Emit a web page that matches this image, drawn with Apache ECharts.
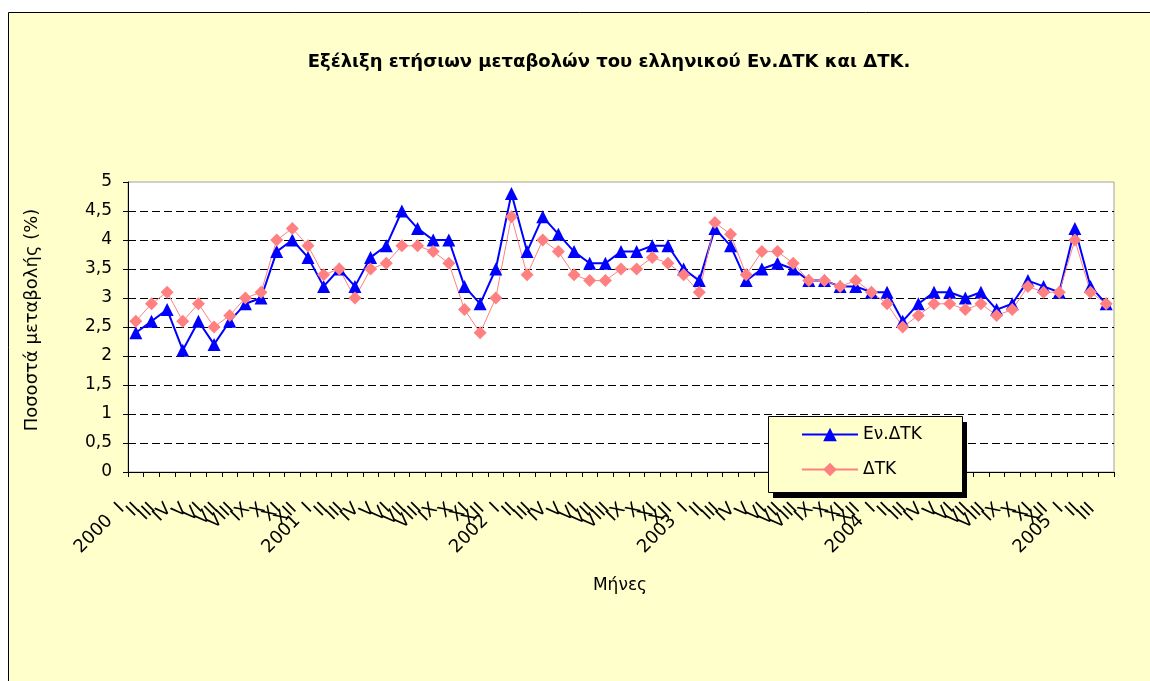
<!DOCTYPE html>
<html>
<head>
<meta charset="UTF-8">
<title>Εν.ΔΤΚ και ΔΤΚ</title>
<script src="https://cdn.jsdelivr.net/npm/echarts@6/dist/echarts.min.js"></script>
<style>
  body { margin: 0; background: #fff; }
  #chart { width: 1150px; height: 681px; }
</style>
</head>
<body>
<div id="chart"></div>
<script>
// Έτη και μήνες (ρωμαϊκή αρίθμηση) του άξονα Χ
const years = ['2000', '2001', '2002', '2003', '2004', '2005']
const months = ['I', 'II', 'III', 'IV', 'V', 'VI', 'VII', 'VIII', 'IX', 'X', 'XI', 'XII']
const lastMonths = 3 // 2005: Ι - ΙΙΙ

// Εν.ΔΤΚ (%)
const evDtk = [
  2.4, 2.6, 2.8, 2.1, 2.6, 2.2, 2.6, 2.9, 3.0, 3.8, 4.0, 3.7,
  3.2, 3.5, 3.2, 3.7, 3.9, 4.5, 4.2, 4.0, 4.0, 3.2, 2.9, 3.5,
  4.8, 3.8, 4.4, 4.1, 3.8, 3.6, 3.6, 3.8, 3.8, 3.9, 3.9, 3.5,
  3.3, 4.2, 3.9, 3.3, 3.5, 3.6, 3.5, 3.3, 3.3, 3.2, 3.2, 3.1,
  3.1, 2.6, 2.9, 3.1, 3.1, 3.0, 3.1, 2.8, 2.9, 3.3, 3.2, 3.1,
  4.2, 3.2, 2.9
]

// ΔΤΚ (%)
const dtk = [
  2.6, 2.9, 3.1, 2.6, 2.9, 2.5, 2.7, 3.0, 3.1, 4.0, 4.2, 3.9,
  3.4, 3.5, 3.0, 3.5, 3.6, 3.9, 3.9, 3.8, 3.6, 2.8, 2.4, 3.0,
  4.4, 3.4, 4.0, 3.8, 3.4, 3.3, 3.3, 3.5, 3.5, 3.7, 3.6, 3.4,
  3.1, 4.3, 4.1, 3.4, 3.8, 3.8, 3.6, 3.3, 3.3, 3.2, 3.3, 3.1,
  2.9, 2.5, 2.7, 2.9, 2.9, 2.8, 2.9, 2.7, 2.8, 3.2, 3.1, 3.1,
  4.0, 3.1, 2.9
]

// κατηγορίες: "2000  I", "II", ... "XII", "2001  I", ...
const categories = []
years.forEach((y, yi) => {
  const n = yi === years.length - 1 ? lastMonths : 12
  for (let m = 0; m < n; m++) {
    categories.push(m === 0 ? y + '  ' + months[m] : months[m])
  }
})

const FONT = 'DejaVu Sans'

// το 5 δεν έχει διακεκομμένη γραμμή (εκεί είναι το πλαίσιο)
const splitColors = Array(10).fill('#000').concat(['rgba(0,0,0,0)'])

// πλαίσιο υπομνήματος
const LEG = { x: 768, y: 416, w: 194, h: 76 }

const chart = echarts.init(document.getElementById('chart'))
chart.setOption({
  backgroundColor: '#fff',
  animation: false,
  textStyle: { fontFamily: FONT },
  graphic: [
    {
      type: 'rect', z: -10, silent: true,
      shape: { x: 8.5, y: 12.5, width: 1160, height: 700 },
      style: { fill: '#FFFFCC', stroke: '#000', lineWidth: 1 }
    },
    {
      type: 'text', x: 609, y: 62, silent: true,
      style: {
        text: 'Εξέλιξη ετήσιων μεταβολών του ελληνικού Εν.ΔΤΚ και ΔΤΚ.',
        font: 'bold 18px ' + FONT, fill: '#000',
        align: 'center', verticalAlign: 'middle'
      }
    },
    {
      type: 'text', x: 32, y: 320, rotation: Math.PI / 2, silent: true,
      style: {
        text: 'Ποσοστά μεταβολής (%)', font: '18px ' + FONT, fill: '#000',
        align: 'center', verticalAlign: 'middle'
      }
    },
    {
      type: 'text', x: 620, y: 586, silent: true,
      style: {
        text: 'Μήνες', font: '17px ' + FONT, fill: '#000',
        align: 'center', verticalAlign: 'middle'
      }
    },
    // σκιά και πλαίσιο υπομνήματος
    {
      type: 'rect', z: 3, silent: true,
      shape: { x: LEG.x + 5, y: LEG.y + 6, width: LEG.w, height: LEG.h },
      style: { fill: '#000' }
    },
    {
      type: 'rect', z: 3, silent: true,
      shape: { x: LEG.x + 0.5, y: LEG.y + 0.5, width: LEG.w, height: LEG.h },
      style: { fill: '#FFFFCC', stroke: '#000', lineWidth: 1 }
    }
  ],
  legend: {
    orient: 'vertical',
    left: LEG.x + 33,
    top: LEG.y + 10,
    padding: 0,
    itemGap: 18,
    itemWidth: 56,
    itemHeight: 17,
    z: 10,
    textStyle: { fontFamily: FONT, fontSize: 17, color: '#000' },
    data: ['Εν.ΔΤΚ', 'ΔΤΚ']
  },
  grid: {
    left: 128, right: 36, top: 182, bottom: 209,
    show: true, backgroundColor: '#fff', borderColor: '#a0a0a0', borderWidth: 1
  },
  xAxis: {
    type: 'category',
    data: categories,
    boundaryGap: true,
    axisLine: { lineStyle: { color: '#000', width: 1 } },
    axisTick: { show: true, interval: 0, length: 5, lineStyle: { color: '#000' } },
    axisLabel: {
      interval: 0, rotate: 45, margin: 20, color: '#000',
      fontFamily: FONT, fontSize: 18, padding: [0, 20, 0, 0]
    },
    splitLine: { show: false }
  },
  yAxis: {
    type: 'value',
    min: 0, max: 5, interval: 0.5,
    axisLine: { show: true, lineStyle: { color: '#000', width: 1 } },
    axisTick: { show: true, length: 5, lineStyle: { color: '#000' } },
    axisLabel: {
      margin: 16, color: '#000', fontFamily: FONT, fontSize: 17,
      formatter: v => String(v).replace('.', ',')
    },
    splitLine: { show: true, lineStyle: { color: splitColors, type: [8, 4], width: 1 } }
  },
  series: [
    {
      name: 'Εν.ΔΤΚ',
      type: 'line',
      data: evDtk,
      symbol: 'triangle',
      symbolSize: 13,
      lineStyle: { color: '#0000FF', width: 2 },
      itemStyle: { color: '#0000FF' }
    },
    {
      name: 'ΔΤΚ',
      type: 'line',
      data: dtk,
      symbol: 'diamond',
      symbolSize: 13,
      lineStyle: { color: '#FF8080', width: 1 },
      itemStyle: { color: '#FF8080' }
    }
  ]
})
</script>
</body>
</html>
